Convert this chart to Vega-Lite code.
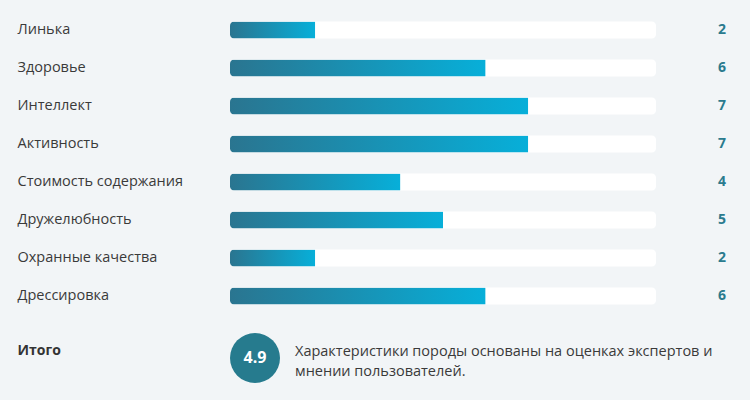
{
  "$schema": "https://vega.github.io/schema/vega-lite/v6.json",
  "autosize": {"type": "pad"},
  "padding": {"left": 17, "top": 11, "right": 23, "bottom": 17},
  "background": "#f2f5f7",
  "config": {
    "view": {"stroke": null},
    "font": "Open Sans",
    "axis": {"labelFont": "Open Sans"}
  },
  "spacing": 18,
  "vconcat": [
    {
      "width": 426,
      "height": 304,
      "data": {
        "values": [
          {"trait": "Линька", "score": 2},
          {"trait": "Здоровье", "score": 6},
          {"trait": "Интеллект", "score": 7},
          {"trait": "Активность", "score": 7},
          {"trait": "Стоимость содержания", "score": 4},
          {"trait": "Дружелюбность", "score": 5},
          {"trait": "Охранные качества", "score": 2},
          {"trait": "Дрессировка", "score": 6}
        ]
      },
      "encoding": {
        "y": {
          "field": "trait",
          "type": "nominal",
          "sort": null,
          "scale": {"paddingInner": 0.55, "paddingOuter": 0.275},
          "axis": {
            "title": null,
            "domain": false,
            "ticks": false,
            "labelAlign": "left",
            "labelPadding": 213,
            "labelLimit": 300,
            "labelFontSize": 14.5,
            "labelColor": "#3a3a3a"
          }
        }
      },
      "layer": [
        {
          "mark": {"type": "bar", "color": "#ffffff", "cornerRadius": 4},
          "encoding": {
            "x": {"datum": 0, "type": "quantitative", "scale": {"domain": [0, 10], "nice": false}, "axis": null},
            "x2": {"datum": 10}
          }
        },
        {
          "mark": {
            "type": "bar",
            "cornerRadiusTopLeft": 4,
            "cornerRadiusBottomLeft": 4,
            "color": {
              "gradient": "linear",
              "x1": 0, "y1": 0, "x2": 1, "y2": 0,
              "stops": [
                {"offset": 0, "color": "#2a7590"},
                {"offset": 1, "color": "#07afd9"}
              ]
            }
          },
          "encoding": {
            "x": {"field": "score", "type": "quantitative"}
          }
        },
        {
          "mark": {"type": "text", "dx": 66, "align": "center", "fontWeight": "bold", "fontSize": 14, "color": "#2b7b8e"},
          "encoding": {
            "x": {"datum": 10, "type": "quantitative"},
            "text": {"field": "score", "type": "quantitative"}
          }
        }
      ]
    },
    {
      "width": 50,
      "height": 50,
      "data": {
        "values": [
          {"label": "Итого", "score": 4.9, "note": "Характеристики породы основаны на оценках экспертов и\nмнении пользователей."}
        ]
      },
      "encoding": {
        "y": {
          "field": "label",
          "type": "nominal",
          "axis": {
            "title": null,
            "domain": false,
            "ticks": false,
            "labelAlign": "left",
            "labelPadding": 213,
            "labelOffset": -8,
            "labelFontSize": 14,
            "labelFontWeight": "bold",
            "labelColor": "#333333"
          }
        }
      },
      "layer": [
        {
          "mark": {"type": "point", "shape": "circle", "filled": true, "opacity": 1, "size": 2500, "color": "#267b8e"},
          "encoding": {
            "x": {"datum": 0.5, "type": "quantitative", "scale": {"domain": [0, 1], "nice": false}, "axis": null}
          }
        },
        {
          "mark": {"type": "text", "fontWeight": "bold", "fontSize": 16, "color": "#ffffff", "align": "center"},
          "encoding": {
            "x": {"datum": 0.5, "type": "quantitative"},
            "text": {"field": "score", "type": "quantitative", "format": ".1f"}
          }
        },
        {
          "mark": {"type": "text", "align": "left", "dx": 15, "dy": -6.5, "fontSize": 14.5, "lineHeight": 20, "lineBreak": "\n", "color": "#3a3a3a"},
          "encoding": {
            "x": {"datum": 1, "type": "quantitative"},
            "text": {"field": "note", "type": "nominal"}
          }
        }
      ]
    }
  ]
}
